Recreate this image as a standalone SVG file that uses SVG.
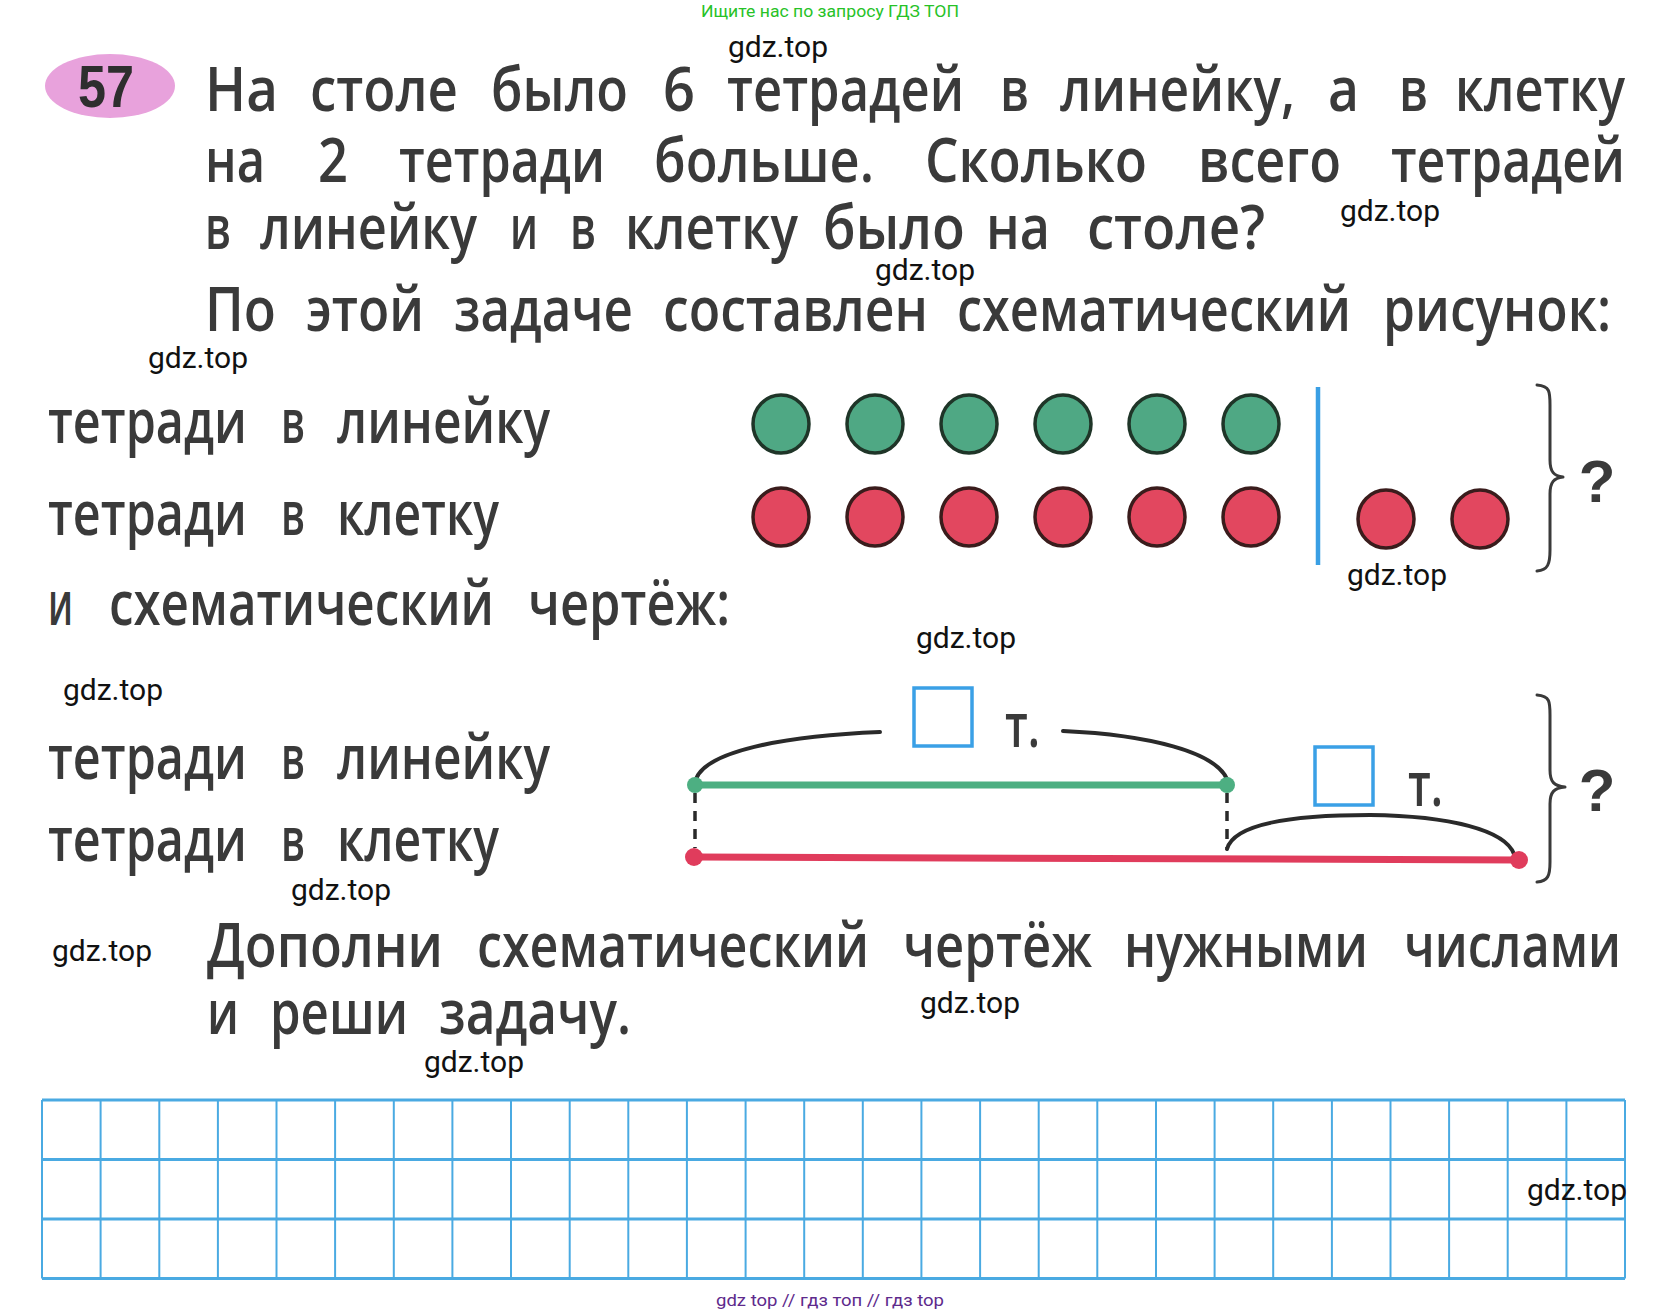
<svg xmlns="http://www.w3.org/2000/svg" width="1662" height="1314" viewBox="0 0 1662 1314">
<style>
.t{font-family:"Open Sans","Noto Sans",sans-serif;font-weight:600;font-size:62px;fill:#3a3a3a}
.t text{font-family:"Open Sans","Noto Sans",sans-serif}
.w{font-family:Roboto,"Liberation Sans",sans-serif;font-size:30px;fill:#111;text-anchor:middle}
.g{fill:#4fa884;stroke:#1f3528;stroke-width:3.5}
.r{fill:#e2475f;stroke:#3a1c1c;stroke-width:3.5}
.br{fill:none;stroke:#3a3a3a;stroke-width:3;stroke-linecap:round;stroke-linejoin:round}
.arc{fill:none;stroke:#2a2a2a;stroke-width:4;stroke-linecap:round}
.sq{fill:none;stroke:#3aa0e6;stroke-width:3.5}
.q{font-family:"Liberation Sans",Arial,sans-serif;font-weight:700;font-size:60px;fill:#3a3a3a;text-anchor:middle}
.gl{stroke:#4aaae2;fill:none}
</style>
<rect width="1662" height="1314" fill="#ffffff"/>

<g id="header">
<text x="830" y="17" font-family="Roboto,'Liberation Sans',sans-serif" font-size="17" fill="#27c227" text-anchor="middle" textLength="258" lengthAdjust="spacingAndGlyphs">Ищите нас по запросу ГДЗ ТОП</text>
</g>

<g id="badge">
<ellipse cx="110" cy="86" rx="65" ry="32" fill="#e8a2dc"/>
<text x="106" y="107" font-family="'Liberation Sans',Arial,sans-serif" font-weight="700" font-size="60" fill="#2e2e2e" text-anchor="middle" textLength="56" lengthAdjust="spacingAndGlyphs">57</text>
</g>

<g id="problem-text" class="t">
<text x="205" y="111" textLength="73" lengthAdjust="spacingAndGlyphs">На</text>
<text x="310" y="111" textLength="148" lengthAdjust="spacingAndGlyphs">столе</text>
<text x="491" y="111" textLength="137" lengthAdjust="spacingAndGlyphs">было</text>
<text x="663" y="111" textLength="32" lengthAdjust="spacingAndGlyphs">6</text>
<text x="727" y="111" textLength="237" lengthAdjust="spacingAndGlyphs">тетрадей</text>
<text x="1000" y="111" textLength="29" lengthAdjust="spacingAndGlyphs">в</text>
<text x="1060" y="111" textLength="235" lengthAdjust="spacingAndGlyphs">линейку,</text>
<text x="1328" y="111" textLength="31" lengthAdjust="spacingAndGlyphs">а</text>
<text x="1399" y="111" textLength="29" lengthAdjust="spacingAndGlyphs">в</text>
<text x="1455" y="111" textLength="170" lengthAdjust="spacingAndGlyphs">клетку</text>

<text x="205" y="182" textLength="60" lengthAdjust="spacingAndGlyphs">на</text>
<text x="318" y="182" textLength="30" lengthAdjust="spacingAndGlyphs">2</text>
<text x="399" y="182" textLength="206" lengthAdjust="spacingAndGlyphs">тетради</text>
<text x="654" y="182" textLength="220" lengthAdjust="spacingAndGlyphs">больше.</text>
<text x="925" y="182" textLength="222" lengthAdjust="spacingAndGlyphs">Сколько</text>
<text x="1198" y="182" textLength="143" lengthAdjust="spacingAndGlyphs">всего</text>
<text x="1391" y="182" textLength="234" lengthAdjust="spacingAndGlyphs">тетрадей</text>

<text x="205" y="249" textLength="26" lengthAdjust="spacingAndGlyphs">в</text>
<text x="260" y="249" textLength="217" lengthAdjust="spacingAndGlyphs">линейку</text>
<text x="510" y="249" textLength="28" lengthAdjust="spacingAndGlyphs">и</text>
<text x="570" y="249" textLength="26" lengthAdjust="spacingAndGlyphs">в</text>
<text x="625" y="249" textLength="173" lengthAdjust="spacingAndGlyphs">клетку</text>
<text x="823" y="249" textLength="142" lengthAdjust="spacingAndGlyphs">было</text>
<text x="986" y="249" textLength="64" lengthAdjust="spacingAndGlyphs">на</text>
<text x="1087" y="249" textLength="178" lengthAdjust="spacingAndGlyphs">столе?</text>

<text x="205" y="331" textLength="71" lengthAdjust="spacingAndGlyphs">По</text>
<text x="306" y="331" textLength="118" lengthAdjust="spacingAndGlyphs">этой</text>
<text x="454" y="331" textLength="179" lengthAdjust="spacingAndGlyphs">задаче</text>
<text x="663" y="331" textLength="265" lengthAdjust="spacingAndGlyphs">составлен</text>
<text x="957" y="331" textLength="394" lengthAdjust="spacingAndGlyphs">схематический</text>
<text x="1383" y="331" textLength="228" lengthAdjust="spacingAndGlyphs">рисунок:</text>
</g>

<g id="labels-picture" class="t">
<text x="48" y="443" textLength="199" lengthAdjust="spacingAndGlyphs">тетради</text>
<text x="281" y="443" textLength="24" lengthAdjust="spacingAndGlyphs">в</text>
<text x="337" y="443" textLength="213" lengthAdjust="spacingAndGlyphs">линейку</text>
<text x="48" y="535" textLength="199" lengthAdjust="spacingAndGlyphs">тетради</text>
<text x="281" y="535" textLength="24" lengthAdjust="spacingAndGlyphs">в</text>
<text x="337" y="535" textLength="162" lengthAdjust="spacingAndGlyphs">клетку</text>
<text x="48" y="625" textLength="25" lengthAdjust="spacingAndGlyphs">и</text>
<text x="109" y="625" textLength="385" lengthAdjust="spacingAndGlyphs">схематический</text>
<text x="528" y="625" textLength="202" lengthAdjust="spacingAndGlyphs">чертёж:</text>
</g>

<g id="picture">
<g id="green-dots">
<ellipse class="g" cx="781" cy="424" rx="28" ry="29"/>
<ellipse class="g" cx="875" cy="424" rx="28" ry="29"/>
<ellipse class="g" cx="969" cy="424" rx="28" ry="29"/>
<ellipse class="g" cx="1063" cy="424" rx="28" ry="29"/>
<ellipse class="g" cx="1157" cy="424" rx="28" ry="29"/>
<ellipse class="g" cx="1251" cy="424" rx="28" ry="29"/>
</g>
<g id="red-dots">
<ellipse class="r" cx="781" cy="517" rx="28" ry="29"/>
<ellipse class="r" cx="875" cy="517" rx="28" ry="29"/>
<ellipse class="r" cx="969" cy="517" rx="28" ry="29"/>
<ellipse class="r" cx="1063" cy="517" rx="28" ry="29"/>
<ellipse class="r" cx="1157" cy="517" rx="28" ry="29"/>
<ellipse class="r" cx="1251" cy="517" rx="28" ry="29"/>
<ellipse class="r" cx="1386" cy="519" rx="28" ry="29"/>
<ellipse class="r" cx="1480" cy="519" rx="28" ry="29"/>
</g>
<line x1="1318" y1="387" x2="1318" y2="565" stroke="#3a9fe4" stroke-width="4.5"/>
<path class="br" d="M1537,385 C1550,386 1550,392 1550,405 L1550,460 C1550,472 1554,476 1563,477 C1554,478 1550,482 1550,494 L1550,550 C1550,564 1548,570 1537,571"/>
<text class="q" x="1597" y="502">?</text>
</g>

<g id="labels-drawing" class="t">
<text x="48" y="779" textLength="199" lengthAdjust="spacingAndGlyphs">тетради</text>
<text x="281" y="779" textLength="24" lengthAdjust="spacingAndGlyphs">в</text>
<text x="337" y="779" textLength="213" lengthAdjust="spacingAndGlyphs">линейку</text>
<text x="48" y="861" textLength="199" lengthAdjust="spacingAndGlyphs">тетради</text>
<text x="281" y="861" textLength="24" lengthAdjust="spacingAndGlyphs">в</text>
<text x="337" y="861" textLength="162" lengthAdjust="spacingAndGlyphs">клетку</text>
</g>

<g id="connectors">
<path class="arc" d="M696,779 C706,752 780,736 880,732"/>
<path class="arc" d="M1063,731 C1150,735 1215,752 1227,779"/>
<path class="arc" d="M1227,849 C1234,824 1290,815 1370,815 C1450,816 1505,830 1514,854"/>
<line x1="695" y1="793" x2="695" y2="848" stroke="#2a2a2a" stroke-width="3.5" stroke-dasharray="10,8"/>
<line x1="1227" y1="793" x2="1227" y2="848" stroke="#2a2a2a" stroke-width="3.5" stroke-dasharray="10,8"/>
</g>

<g id="drawing">
<line x1="695" y1="785" x2="1227" y2="785" stroke="#4daf82" stroke-width="7"/>
<circle cx="695" cy="785" r="8" fill="#4daf82"/>
<circle cx="1227" cy="785" r="8" fill="#4daf82"/>
<line x1="694" y1="857" x2="1519" y2="860" stroke="#e03c5c" stroke-width="7"/>
<circle cx="694" cy="857" r="9" fill="#e03c5c"/>
<circle cx="1519" cy="860" r="9" fill="#e03c5c"/>
<rect class="sq" x="914" y="688" width="58" height="58"/>
<text class="t" x="1005" y="747" font-size="52" textLength="35" lengthAdjust="spacingAndGlyphs">т.</text>
<rect class="sq" x="1315" y="747" width="58" height="58"/>
<text class="t" x="1408" y="806" font-size="52" textLength="35" lengthAdjust="spacingAndGlyphs">т.</text>
<path class="br" d="M1537,695 C1550,696 1550,702 1550,715 L1550,770 C1550,782 1554,786 1565,787 C1554,788 1550,792 1550,804 L1550,862 C1550,876 1548,881 1537,882"/>
<text class="q" x="1597" y="811">?</text>
</g>

<g id="task-text" class="t">
<text x="207" y="967" textLength="236" lengthAdjust="spacingAndGlyphs">Дополни</text>
<text x="477" y="967" textLength="392" lengthAdjust="spacingAndGlyphs">схематический</text>
<text x="903" y="967" textLength="189" lengthAdjust="spacingAndGlyphs">чертёж</text>
<text x="1124" y="967" textLength="244" lengthAdjust="spacingAndGlyphs">нужными</text>
<text x="1404" y="967" textLength="217" lengthAdjust="spacingAndGlyphs">числами</text>
<text x="207" y="1034" textLength="32" lengthAdjust="spacingAndGlyphs">и</text>
<text x="270" y="1034" textLength="138" lengthAdjust="spacingAndGlyphs">реши</text>
<text x="439" y="1034" textLength="192" lengthAdjust="spacingAndGlyphs">задачу.</text>
</g>

<g id="grid" class="gl">
<g stroke-width="3">
<line x1="42" y1="1100" x2="1625" y2="1100"/>
<line x1="42" y1="1159.5" x2="1625" y2="1159.5"/>
<line x1="42" y1="1219" x2="1625" y2="1219"/>
<line x1="42" y1="1278.5" x2="1625" y2="1278.5"/>
</g>
<g stroke-width="2">
<line x1="42" y1="1100" x2="42" y2="1278.5"/>
<line x1="100.6" y1="1100" x2="100.6" y2="1278.5"/>
<line x1="159.3" y1="1100" x2="159.3" y2="1278.5"/>
<line x1="217.9" y1="1100" x2="217.9" y2="1278.5"/>
<line x1="276.5" y1="1100" x2="276.5" y2="1278.5"/>
<line x1="335.1" y1="1100" x2="335.1" y2="1278.5"/>
<line x1="393.8" y1="1100" x2="393.8" y2="1278.5"/>
<line x1="452.4" y1="1100" x2="452.4" y2="1278.5"/>
<line x1="511" y1="1100" x2="511" y2="1278.5"/>
<line x1="569.7" y1="1100" x2="569.7" y2="1278.5"/>
<line x1="628.3" y1="1100" x2="628.3" y2="1278.5"/>
<line x1="686.9" y1="1100" x2="686.9" y2="1278.5"/>
<line x1="745.6" y1="1100" x2="745.6" y2="1278.5"/>
<line x1="804.2" y1="1100" x2="804.2" y2="1278.5"/>
<line x1="862.8" y1="1100" x2="862.8" y2="1278.5"/>
<line x1="921.4" y1="1100" x2="921.4" y2="1278.5"/>
<line x1="980.1" y1="1100" x2="980.1" y2="1278.5"/>
<line x1="1038.7" y1="1100" x2="1038.7" y2="1278.5"/>
<line x1="1097.3" y1="1100" x2="1097.3" y2="1278.5"/>
<line x1="1156" y1="1100" x2="1156" y2="1278.5"/>
<line x1="1214.6" y1="1100" x2="1214.6" y2="1278.5"/>
<line x1="1273.2" y1="1100" x2="1273.2" y2="1278.5"/>
<line x1="1331.9" y1="1100" x2="1331.9" y2="1278.5"/>
<line x1="1390.5" y1="1100" x2="1390.5" y2="1278.5"/>
<line x1="1449.1" y1="1100" x2="1449.1" y2="1278.5"/>
<line x1="1507.7" y1="1100" x2="1507.7" y2="1278.5"/>
<line x1="1566.4" y1="1100" x2="1566.4" y2="1278.5"/>
<line x1="1625" y1="1100" x2="1625" y2="1278.5"/>
</g>
</g>

<g id="watermarks" class="w">
<text x="778" y="57">gdz.top</text>
<text x="1390" y="221">gdz.top</text>
<text x="925" y="280">gdz.top</text>
<text x="198" y="368">gdz.top</text>
<text x="1397" y="585">gdz.top</text>
<text x="966" y="648">gdz.top</text>
<text x="113" y="700">gdz.top</text>
<text x="341" y="900">gdz.top</text>
<text x="102" y="961">gdz.top</text>
<text x="970" y="1013">gdz.top</text>
<text x="474" y="1072">gdz.top</text>
<text x="1577" y="1200">gdz.top</text>
</g>

<g id="footer">
<text x="830" y="1306" font-family="Roboto,'Liberation Sans',sans-serif" font-size="17" fill="#5e2a8c" text-anchor="middle" textLength="228" lengthAdjust="spacingAndGlyphs">gdz top  //  гдз топ  //  гдз top</text>
</g>
</svg>
